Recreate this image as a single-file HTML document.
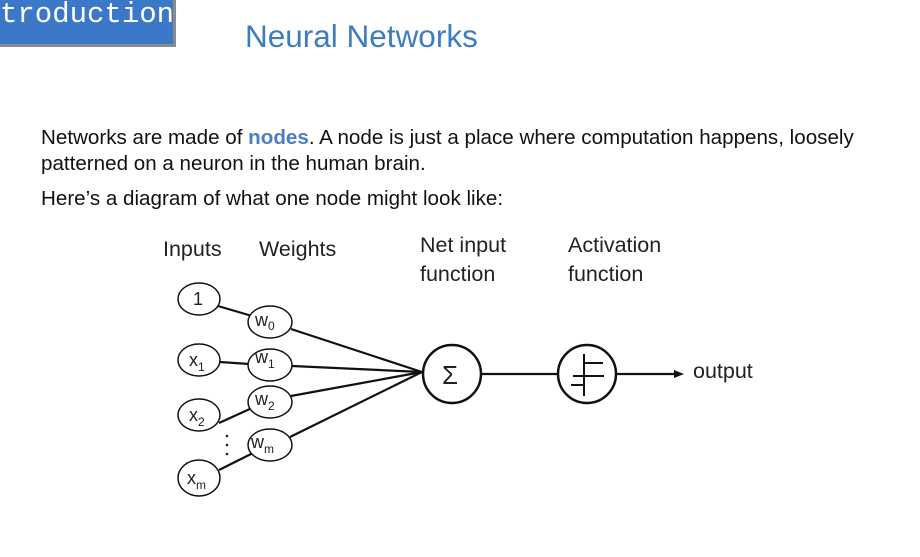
<!DOCTYPE html>
<html><head><meta charset="utf-8"><style>
html,body{margin:0;padding:0;width:920px;height:557px;background:#fff;overflow:hidden;font-family:"Liberation Sans",sans-serif;}
.tab{position:absolute;left:0;top:0;width:173px;height:44px;background:#3c78c8;border-right:3px solid #8a8a8a;border-bottom:3px solid #8a8a8a;color:#fff;font-family:"Liberation Mono",monospace;font-size:29px;line-height:30px;}
.title{position:absolute;left:245px;top:18px;font-size:31.5px;color:#3c7cc0;}
.p{position:absolute;left:41px;font-size:20.6px;color:#111;white-space:nowrap;}
</style></head><body>
<div class="tab"><span style="position:absolute;left:0px;top:0px">troduction</span></div>
<div class="title">Neural Networks</div>
<div class="p" style="top:126px">Networks are made of <b style="color:#4a7cc8;font-weight:bold">nodes</b>. A node is just a place where computation happens, loosely</div>
<div class="p" style="top:152px">patterned on a neuron in the human brain.</div>
<div class="p" style="top:187px">Here’s a diagram of what one node might look like:</div>
<svg width="920" height="557" style="position:absolute;left:0;top:0" font-family="Liberation Sans, sans-serif">
<g font-size="21.5" fill="#222">
<text x="163" y="256">Inputs</text><text x="259" y="256">Weights</text>
<text x="420" y="252">Net input</text><text x="420" y="281">function</text>
<text x="568" y="252">Activation</text><text x="568" y="281">function</text>
<text x="693" y="378">output</text>
</g>
<g stroke="#111" stroke-width="2.2" fill="none">
<line x1="218" y1="306" x2="252" y2="316"/>
<line x1="220" y1="362" x2="249" y2="364"/>
<line x1="219" y1="423" x2="252" y2="408"/>
<line x1="219" y1="470" x2="253" y2="453"/>
<line x1="291" y1="329" x2="422" y2="372"/>
<line x1="292" y1="366" x2="422" y2="372"/>
<line x1="291" y1="396" x2="422" y2="372"/>
<line x1="290" y1="437" x2="422" y2="372"/>
<line x1="481" y1="374" x2="558" y2="374"/>
<line x1="616" y1="374" x2="676" y2="374"/>
</g>
<polygon points="684,374 674,370 674,378" fill="#111"/>
<g stroke="#111" stroke-width="1.5" fill="#fff">
<ellipse cx="199" cy="299" rx="21" ry="16"/>
<ellipse cx="199" cy="360" rx="21" ry="16"/>
<ellipse cx="199" cy="415" rx="21" ry="16"/>
<ellipse cx="199" cy="478" rx="21" ry="18"/>
<ellipse cx="270" cy="322" rx="22" ry="16"/>
<ellipse cx="270" cy="365" rx="22" ry="16"/>
<ellipse cx="270" cy="402" rx="22" ry="16"/>
<ellipse cx="270" cy="445" rx="22" ry="16"/>
</g>
<g stroke="#111" stroke-width="2.5" fill="#fff">
<circle cx="452" cy="374" r="29"/>
<circle cx="587" cy="374" r="29"/>
</g>
<g stroke="#111" stroke-width="2" fill="none">
<path d="M571 385 H584 M584 396 V354 M584 363 H603 M573 376 H604"/>
</g>
<g font-size="18" fill="#222">
<text x="193" y="305">1</text>
<text x="189" y="366">x<tspan font-size="12" dy="5">1</tspan></text>
<text x="189" y="421">x<tspan font-size="12" dy="5">2</tspan></text>
<text x="187" y="484">x<tspan font-size="12" dy="5">m</tspan></text>
<text x="255" y="326">w<tspan font-size="12" dy="4">0</tspan></text>
<text x="255" y="363">w<tspan font-size="12" dy="5">1</tspan></text>
<text x="255" y="405">w<tspan font-size="12" dy="5">2</tspan></text>
<text x="251" y="448">w<tspan font-size="12" dy="5">m</tspan></text>
<text x="442" y="384" font-size="26">Σ</text>
</g>
<g fill="#222"><circle cx="227" cy="436" r="1.3"/><circle cx="227" cy="445" r="1.3"/><circle cx="227" cy="454" r="1.3"/></g>
</svg>
</body></html>
